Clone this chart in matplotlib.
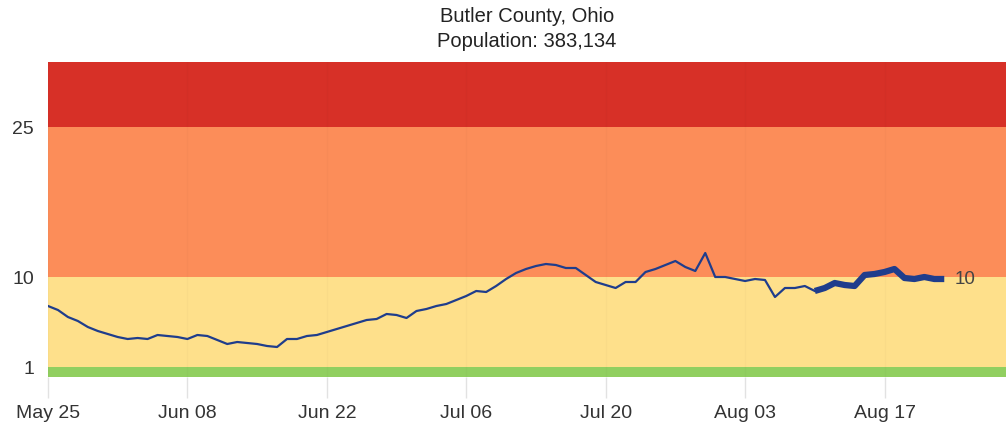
import matplotlib
matplotlib.use("Agg")
import matplotlib.pyplot as plt
import matplotlib.dates as mdates
import numpy as np
import datetime as dt

plt.rcParams['font.family'] = ['Liberation Sans', 'DejaVu Sans']

title = "Butler County, Ohio\nPopulation: 383,134"
start_date = dt.date(2020, 5, 25)
values = [7.1, 6.7, 6.0, 5.6, 5.0, 4.6, 4.3, 4.0, 3.8, 3.9,
          3.8, 4.2, 4.1, 4.0, 3.8, 4.2, 4.1, 3.7, 3.3, 3.5,
          3.4, 3.3, 3.1, 3.0, 3.8, 3.8, 4.1, 4.2, 4.5, 4.8,
          5.1, 5.4, 5.7, 5.8, 6.3, 6.2, 5.9, 6.6, 6.8, 7.1,
          7.3, 7.7, 8.1, 8.6, 8.5, 9.1, 9.8, 10.4, 10.8, 11.1,
          11.3, 11.2, 10.9, 10.9, 10.2, 9.5, 9.2, 8.9, 9.5, 9.5,
          10.5, 10.8, 11.2, 11.6, 11.0, 10.6, 12.4, 10.0, 10.0, 9.8,
          9.6, 9.8, 9.7, 8.0, 8.9, 8.9, 9.1, 8.6, 8.9, 9.4,
          9.2, 9.1, 10.2, 10.3, 10.5, 10.8, 9.9, 9.8, 10.0, 9.8,
          9.8]
thick_start = 77
band_edges = [0, 1, 10, 25, 31.5]
band_colors = ['#91cf60', '#fee08b', '#fc8d59', '#d73027']
y_ticks = [1, 10, 25]
last_label = "10"

dates = [start_date + dt.timedelta(days=i) for i in range(len(values))]

fig = plt.figure(figsize=(10.06, 4.26), dpi=100)
ax = fig.add_axes([48/1006, 1-377/426, 1-48/1006, (377-62)/426])

for lo, hi, c in zip(band_edges[:-1], band_edges[1:], band_colors):
    ax.axhspan(lo, hi, color=c, lw=0, zorder=0)

ax.plot(dates[:thick_start+1], values[:thick_start+1], color='#1f3d8c', lw=1.6, zorder=3)
ax.plot(dates[thick_start:], values[thick_start:], color='#1f3d8c', lw=4.5, zorder=3,
        solid_capstyle='butt', solid_joinstyle='round')

ax.text(dates[-1] + dt.timedelta(days=1.2), values[-1], last_label, fontsize=13.5,
        color='#444444', va='center', ha='left')

ax.set_ylim(band_edges[0], band_edges[-1])
ax.set_xlim(mdates.date2num(start_date), mdates.date2num(start_date) + 96.2)
ticks = [start_date + dt.timedelta(days=14*i) for i in range(7)]
ax.set_xticks(ticks)
ax.xaxis.set_major_formatter(mdates.DateFormatter('%b %d'))
ax.grid(axis='x', color='black', alpha=0.02, lw=1)
ax.set_yticks(y_ticks)
ax.set_yticklabels([str(t) for t in y_ticks])
ax.tick_params(axis='y', length=0, pad=10, labelsize=14, labelcolor='#333333')
ax.tick_params(axis='x', length=15, width=1, color='#e2e2e2', pad=5, labelsize=14,
               labelcolor='#333333')
for s in ax.spines.values():
    s.set_visible(False)

fig.text(527/1006, 1-29/426, title, ha='center', va='center', fontsize=14.5,
         color='#222222', linespacing=1.4)

fig.savefig('out.png', dpi=100)
